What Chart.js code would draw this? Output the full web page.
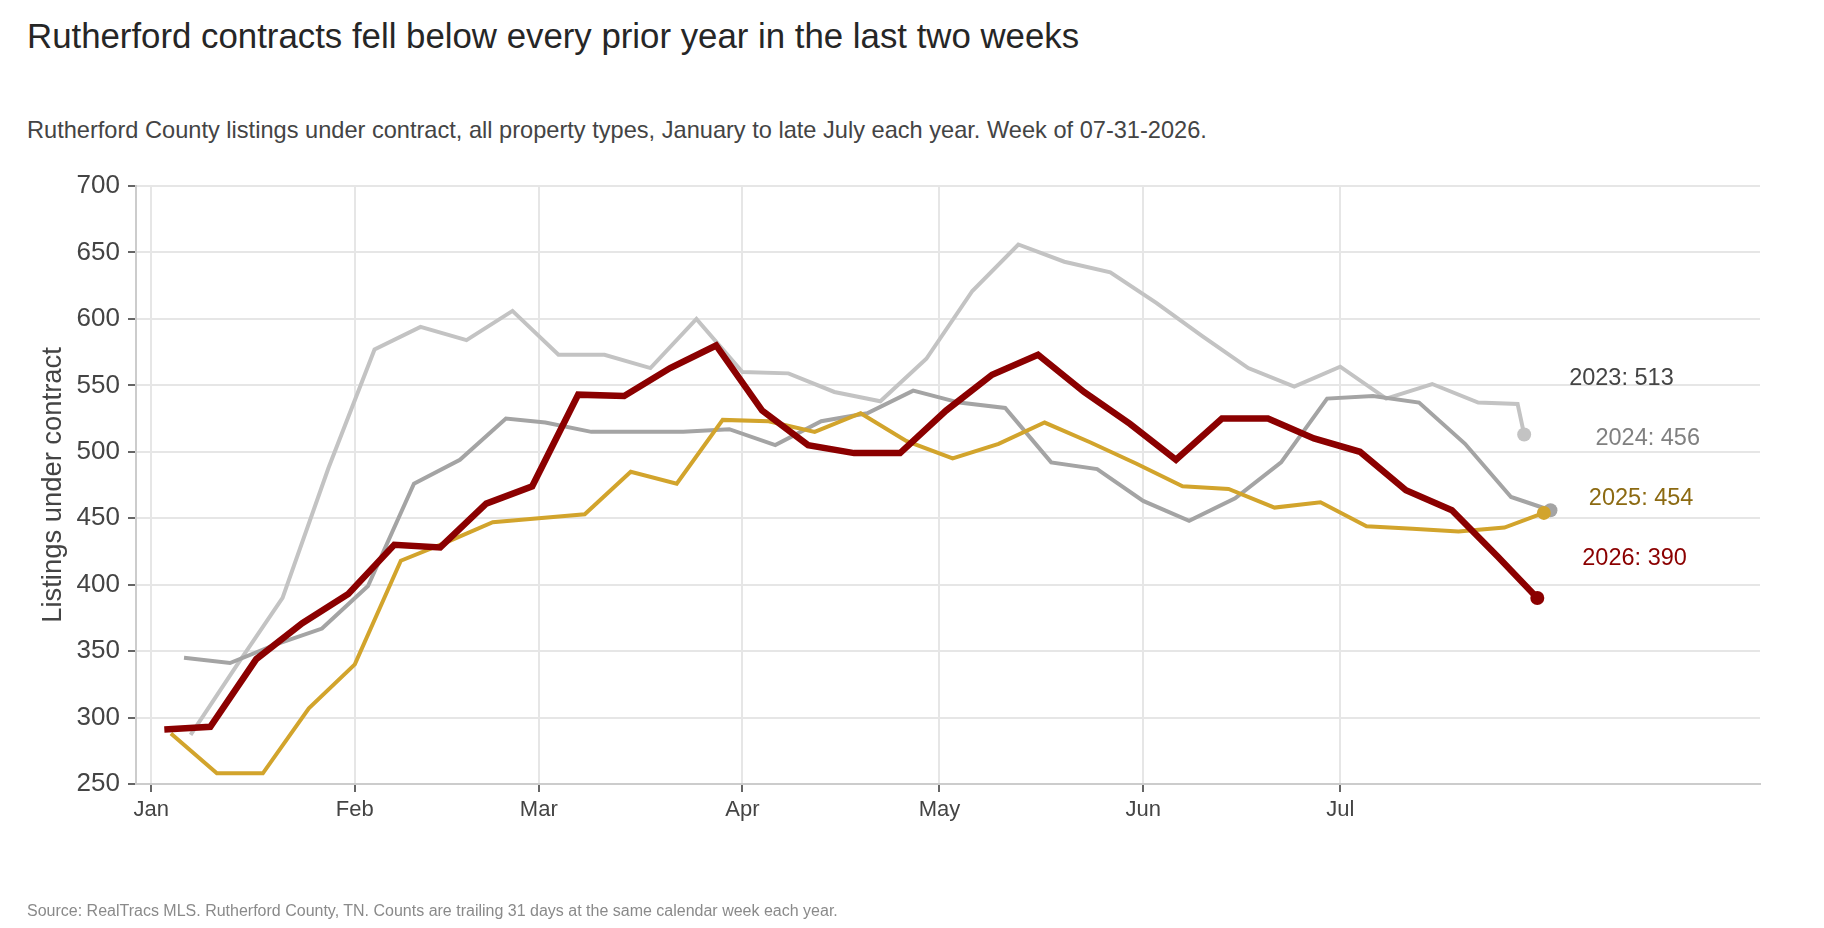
<!DOCTYPE html>
<html>
<head>
<meta charset="utf-8">
<title>Rutherford contracts</title>
<script src="https://cdn.jsdelivr.net/npm/chart.js@4.4.1/dist/chart.umd.min.js"></script>
<style>
  html, body { margin: 0; padding: 0; background: #fff; }
  body { width: 1824px; height: 928px; position: relative; overflow: hidden;
         font-family: 'Liberation Sans', Arial, Helvetica, sans-serif; }
  #chart { position: absolute; left: 0; top: 0; }
  .txt { position: absolute; left: 27px; white-space: nowrap; }
  #title { top: 18px; font-size: 34.8px; line-height: 35px; color: #262626; }
  #subtitle { top: 118px; font-size: 23.6px; line-height: 24px; color: #444; }
  #source { top: 903px; font-size: 16px; line-height: 16px; color: #8a8a8a; }
</style>
</head>
<body>
<div class="txt" id="title">Rutherford contracts fell below every prior year in the last two weeks</div>
<div class="txt" id="subtitle">Rutherford County listings under contract, all property types, January to late July each year. Week of 07-31-2026.</div>
<canvas id="chart" width="1824" height="928"></canvas>
<div class="txt" id="source">Source: RealTracs MLS. Rutherford County, TN. Counts are trailing 31 days at the same calendar week each year.</div>

<script>
// x positions are day of year on the 2026 calendar (Jan 1 = 0)
const MONTH_DAYS = [0, 31, 59, 90, 120, 151, 181];
const MONTH_LABELS = ['Jan', 'Feb', 'Mar', 'Apr', 'May', 'Jun', 'Jul'];

const YEARS = ['2023', '2024', '2025', '2026'];

const DAYS_2023 = [6, 13, 20, 27, 34, 41, 48, 55, 62, 69, 76, 83, 90, 97, 104, 111, 118, 125, 132, 139, 146, 153, 160, 167, 174, 181, 188, 195, 202, 208, 209];
const VALUES_2023 = [287, 339, 390, 488, 577, 594, 584, 606, 573, 573, 563, 600, 560, 559, 545, 538, 570, 621, 656, 643, 635, 612, 587, 563, 549, 564, 540, 551, 537, 536, 513];

const DAYS_2024 = [5, 12, 19, 26, 33, 40, 47, 54, 60, 67, 74, 81, 88, 95, 102, 109, 116, 123, 130, 137, 144, 151, 158, 165, 172, 179, 186, 193, 200, 207, 213];
const VALUES_2024 = [345, 341, 355, 367, 399, 476, 494, 525, 522, 515, 515, 515, 517, 505, 523, 529, 546, 537, 533, 492, 487, 463, 448, 465, 492, 540, 542, 537, 506, 466, 456];

const DAYS_2025 = [3, 10, 17, 24, 31, 38, 45, 52, 59, 66, 73, 80, 87, 94, 101, 108, 115, 122, 129, 136, 143, 150, 157, 164, 171, 178, 185, 192, 199, 206, 212];
const VALUES_2025 = [288, 258, 258, 307, 340, 418, 432, 447, 450, 453, 485, 476, 524, 523, 515, 529, 508, 495, 506, 522, 507, 491, 474, 472, 458, 462, 444, 442, 440, 443, 454];

const DAYS_2026 = [2, 9, 16, 23, 30, 37, 44, 51, 58, 65, 72, 79, 86, 93, 100, 107, 114, 121, 128, 135, 142, 149, 156, 163, 170, 177, 184, 191, 198, 205, 211];
const VALUES_2026 = [291, 293, 344, 371, 393, 430, 428, 461, 474, 543, 542, 563, 580, 531, 505, 499, 499, 531, 558, 573, 545, 521, 494, 525, 525, 510, 500, 471, 456, 421, 390];

const Y_TICKS = [250, 300, 350, 400, 450, 500, 550, 600, 650, 700];

const LINE_COLORS = ['#c3c3c3', '#a4a4a4', '#d2a42c', '#8b0000'];
const LABEL_COLORS = ['#444444', '#808080', '#8c6a12', '#8b0000'];
const LINE_WIDTHS = [4, 4, 4, 6.5];

const FONT = "'Liberation Sans', Arial, Helvetica, sans-serif";

function toPoints(days, values) {
    return days.map((d, i) => ({ x: d, y: values[i] }));
}

function makeDataset(idx, days, values) {
    const last = values.length - 1;
    return {
        label: YEARS[idx],
        data: toPoints(days, values),
        borderColor: LINE_COLORS[idx],
        backgroundColor: LINE_COLORS[idx],
        borderWidth: LINE_WIDTHS[idx],
        borderJoinStyle: 'miter',
        tension: 0,
        pointRadius: values.map((v, i) => i === last ? 7 : 0),
        pointBorderWidth: 0,
        pointBackgroundColor: LINE_COLORS[idx],
        order: 3 - idx
    };
}

// year labels stacked to the right of the end dots
const endLabels = {
    id: 'endLabels',
    afterDatasetsDraw(chart) {
        const ctx = chart.ctx;
        const yScale = chart.scales.y;
        ctx.save();
        ctx.font = '23.5px ' + FONT;
        ctx.textAlign = 'left';
        ctx.textBaseline = 'middle';
        chart.data.datasets.forEach((ds, i) => {
            const meta = chart.getDatasetMeta(i);
            const pt = meta.data[meta.data.length - 1];
            const lastVal = ds.data[ds.data.length - 1].y;
            const y = yScale.getPixelForValue(555 - 45 * i);
            ctx.fillStyle = LABEL_COLORS[i];
            ctx.fillText(ds.label + ': ' + lastVal, pt.x + 45, y);
        });
        ctx.restore();
    }
};

Chart.defaults.font.family = FONT;

new Chart(document.getElementById('chart'), {
    type: 'line',
    data: {
        datasets: [
            makeDataset(0, DAYS_2023, VALUES_2023),
            makeDataset(1, DAYS_2024, VALUES_2024),
            makeDataset(2, DAYS_2025, VALUES_2025),
            makeDataset(3, DAYS_2026, VALUES_2026)
        ]
    },
    options: {
        responsive: false,
        animation: false,
        layout: { padding: { top: 186, right: 64, bottom: 0, left: 0 } },
        plugins: {
            legend: { display: false },
            tooltip: { enabled: false }
        },
        scales: {
            x: {
                type: 'linear',
                min: -2.31,
                max: 244.9,
                afterBuildTicks: scale => {
                    scale.ticks = MONTH_DAYS.map(v => ({ value: v }));
                },
                afterFit: scale => { scale.height = 144; },
                ticks: {
                    autoSkip: false,
                    maxRotation: 0,
                    padding: 4.5,
                    color: '#444',
                    font: { size: 22 },
                    callback: v => MONTH_LABELS[MONTH_DAYS.indexOf(v)]
                },
                grid: { color: '#e6e6e6', lineWidth: 2, tickColor: '#666', tickLength: 8 },
                border: { color: '#cccccc', width: 2 }
            },
            y: {
                min: 250,
                max: 700,
                afterBuildTicks: scale => {
                    scale.ticks = Y_TICKS.map(v => ({ value: v }));
                },
                afterFit: scale => { scale.width = 136; },
                ticks: {
                    padding: 8,
                    color: '#444',
                    font: { size: 26 }
                },
                grid: { color: '#e6e6e6', lineWidth: 2, tickColor: '#666', tickLength: 8 },
                border: { color: '#cccccc', width: 2 },
                title: {
                    display: true,
                    text: 'Listings under contract',
                    color: '#444',
                    font: { size: 27.4 },
                    padding: { top: 37, bottom: 0 }
                }
            }
        }
    },
    plugins: [endLabels]
});
</script>
</body>
</html>
